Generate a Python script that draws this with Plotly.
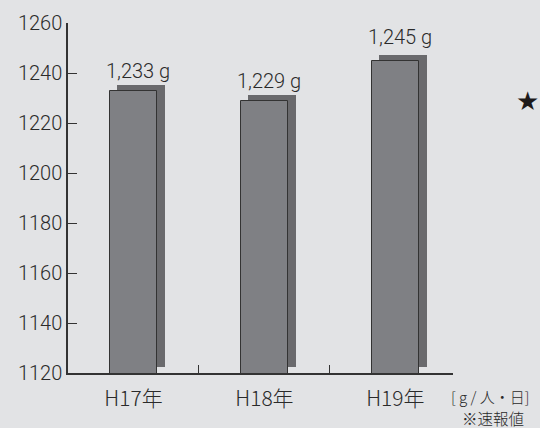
import plotly.graph_objects as go

categories = ["H17年", "H18年", "H19年"]
values = [1233, 1229, 1245]
value_labels = ["1,233 g", "1,229 g", "1,245 g"]
y_ticks = [1120, 1140, 1160, 1180, 1200, 1220, 1240, 1260]

W, H = 540, 428
L, R, T, B = 68, 87, 23, 55
PW, PH = W - L - R, H - T - B
X0, X1 = -0.5, 2.44
Y0, Y1 = 1120, 1260

BG = "#e2e3e5"
FRONT = "#7f8084"
SHADOW = "#6a6a6d"
INK = "#333333"
TXT = "#2a2a2a"
FONT = "Roboto, sans-serif"
CJK = "Noto Sans CJK JP, sans-serif"

xs = list(range(len(categories)))
shadow_lift = 2.4  # value units the shadow is raised
label_shift = [6, 6, 10]

def px(xpix):
    return (xpix - L) / PW

def py(ypix):
    return (H - B - ypix) / PH

fig = go.Figure()
fig.add_trace(go.Bar(
    x=xs, y=[v - Y0 for v in values],
    base=[Y0 + shadow_lift] * len(values),
    offset=-0.126, width=0.366,
    marker=dict(color=SHADOW, line=dict(width=0)),
    hoverinfo="skip", showlegend=False,
))
fig.add_trace(go.Bar(
    x=xs, y=values,
    offset=-0.179, width=0.359,
    marker=dict(color=FRONT, line=dict(color=INK, width=1)),
    showlegend=False,
))

for x, v, t, s in zip(xs, values, value_labels, label_shift):
    fig.add_annotation(x=x + 0.035, y=v, text=t, showarrow=False,
                       xanchor="center", yanchor="bottom", yshift=s,
                       font=dict(family=FONT, size=20, color=TXT, weight=300))

fig.add_annotation(x=px(449), y=py(396.5), xref="paper", yref="paper",
                   text="[ g / 人・日]", showarrow=False, xanchor="left",
                   yanchor="middle", font=dict(family=CJK, size=15, color=TXT, weight=300))
fig.add_annotation(x=px(460), y=py(417.5), xref="paper", yref="paper",
                   text="※速報値", showarrow=False, xanchor="left",
                   yanchor="middle", font=dict(family=CJK, size=15.5, color=TXT, weight=300))
fig.add_annotation(x=px(527), y=py(101), xref="paper", yref="paper",
                   text="★", showarrow=False, xanchor="center",
                   yanchor="middle", font=dict(family="DejaVu Sans", size=26, color="#1e1a1a"))

fig.update_layout(
    width=W, height=H,
    margin=dict(l=L, r=R, t=T, b=B, pad=0),
    paper_bgcolor=BG, plot_bgcolor=BG,
    barmode="overlay", bargap=0,
    xaxis=dict(range=[X0, X1], tickvals=xs, ticktext=categories,
               ticks="", showgrid=False, zeroline=False,
               showline=True, linecolor=INK, linewidth=1.5,
               ticklabelstandoff=6,
               tickfont=dict(family=CJK, size=21, color=TXT, weight=300),
               minor=dict(tickvals=[0.5, 1.5], ticks="inside", ticklen=8,
                          tickcolor=INK, tickwidth=1, showgrid=False)),
    yaxis=dict(range=[Y0, Y1], tickvals=y_ticks, ticks="inside", ticklen=9,
               tickcolor=INK, tickwidth=1.2, showgrid=False, zeroline=False,
               showline=True, linecolor=INK, linewidth=1.5,
               tickfont=dict(family=FONT, size=20, color=TXT, weight=300)),
)

fig.write_html(
    "out.html",
    config={"displayModeBar": False},
    post_script=("document.body.style.margin='0';document.body.style.padding='0';"
                 "document.body.style.background='" + BG + "';"),
)
